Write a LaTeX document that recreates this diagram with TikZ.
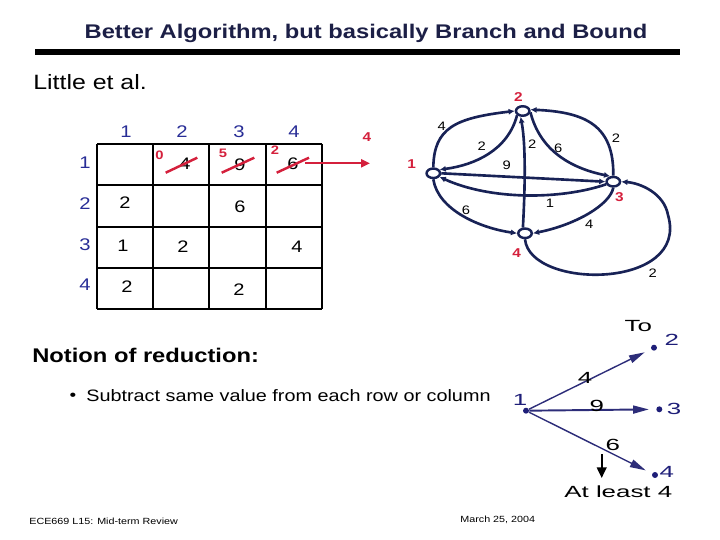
\documentclass[tikz,border=0pt]{standalone}
\usepackage{fontspec}
\setmainfont[FakeStretch=1.2]{Liberation Sans}
\newfontfamily\widefont[FakeStretch=1.6]{Liberation Sans}
\usepackage{tikz}
\usetikzlibrary{arrows.meta,positioning,calc,shapes.geometric}
\definecolor{titlenavy}{RGB}{28,31,70}
\definecolor{headblue}{RGB}{40,45,150}
\definecolor{markred}{RGB}{212,32,60}
\definecolor{edgenavy}{RGB}{24,34,86}
\definecolor{treenavy}{RGB}{30,30,120}
\newcommand{\cellval}[3]{\node[cellnum] (#1) at #2 {#3};}
\newcommand{\crossout}[2]{\draw[markred,line width=1.4pt] #1 -- #2;}
\newcommand{\wlabel}[3]{\node[wnum] (#1) at #2 {#3};}
\newcommand{\citylabel}[3]{\node[citynum] (#1) at #2 {#3};}
\tikzset{
  slidetitle/.style={font=\bfseries\fontsize{11.25}{13}\selectfont,text=titlenavy},
  bigtext/.style={font=\fontsize{11.8}{13}\selectfont,inner sep=0pt,anchor=west},
  foot/.style={font=\fontsize{5.1}{6}\selectfont,inner sep=0pt,anchor=west},
  cellnum/.style={font=\fontsize{9.5}{10}\selectfont,text=black},
  headnum/.style={font=\fontsize{9.6}{10}\selectfont,text=headblue},
  rednum/.style={font=\bfseries\fontsize{7}{8}\selectfont,text=markred},
  wnum/.style={font=\fontsize{7}{8}\selectfont,text=black},
  citynum/.style={font=\bfseries\fontsize{7.3}{8}\selectfont,text=markred},
  gridline/.style={black,line width=1pt},
  city/.style={ellipse,draw=edgenavy,fill=white,line width=1.4pt,
    minimum width=0.27cm,minimum height=0.19cm,inner sep=0pt},
  road/.style={edgenavy,line width=1.5pt,-{Latex[length=3.5pt,width=3.5pt]}},
  dot/.style={circle,fill=treenavy,minimum size=3.4pt,inner sep=0pt},
  treelabel/.style={font=\widefont\fontsize{9.2}{10}\selectfont},
  branch/.style={treenavy!85!gray,line width=0.8pt,shorten >=4pt,
    -{Triangle[length=9pt,width=4.5pt]}}
}
\begin{document}
\begin{tikzpicture}[x=0.02cm,y=-0.02cm]
\useasboundingbox (0,0) rectangle (720,540);
% heading
\node[slidetitle] (title) at (366,33) {Better Algorithm, but basically Branch and Bound};
\draw[line width=3.4pt] (35,52) -- (680,52);
\node[bigtext] (little) at (33,82) {Little et al.};
% distance matrix
\foreach \gx in {97,153,209,266,322} \draw[gridline] (\gx,144) -- (\gx,309);
\foreach \gy in {144,185,227,268,309} \draw[gridline] (97,\gy) -- (322,\gy);
\foreach \i/\hx in {1/126,2/182,3/239,4/294} \node[headnum] (col\i) at (\hx,132) {\i};
\foreach \i/\hy in {1/163,2/204,3/245,4/285} \node[headnum] (row\i) at (85,\hy) {\i};
\cellval{m12}{(185,164)}{4} \cellval{m13}{(240,165)}{9} \cellval{m14}{(293,164)}{6}
\cellval{m21}{(125,203)}{2} \cellval{m23}{(240,207)}{6}
\cellval{m31}{(123,246)}{1} \cellval{m32}{(183,247)}{2} \cellval{m34}{(297,247)}{4}
\cellval{m41}{(127,287)}{2} \cellval{m43}{(239,290)}{2}
\crossout{(165.7,172.7)}{(197.3,157.7)}
\crossout{(221.7,172.7)}{(254.3,157.7)}
\crossout{(276.7,172.7)}{(309,157.7)}
\node[rednum] (r12) at (159.5,155) {0};
\node[rednum] (r13) at (223,153) {5};
\node[rednum] (r14) at (275,150) {2};
\coordinate (rowout) at (305,163.3);
\coordinate (rowin) at (370,163.3);
\draw[markred,line width=1.3pt,-{Triangle[length=5pt,width=4.5pt]}] (rowout) -- (rowin);
\node[citynum] (rowmin) at (367,137) {4};
% graph
\node[city] (n1) at (433.3,173.3) {};
\node[city] (n2) at (522.7,111) {};
\node[city] (n3) at (613.3,181.7) {};
\node[city] (n4) at (525,233.3) {};
\citylabel{l1}{(411.7,164)}{1}
\citylabel{l2}{(518.3,96.7)}{2}
\citylabel{l3}{(619.3,197.3)}{3}
\citylabel{l4}{(516.7,253.3)}{4}
\draw[road] (n1.north) .. controls (434,128) and (455,118) .. (n2.west);
\draw[road] (n2.south west) .. controls (508,150) and (475,165) .. (n1.30);
\draw[road] (n4.110) .. controls (525,190) and (526,145) .. (n2.250);
\draw[road] (n2.-10) .. controls (540,150) and (570,168) .. (n3.120);
\draw[road] (n3.north) .. controls (614,125) and (585,112) .. (n2.10);
\draw[road] (n1.east) -- (n3.west);
\draw[road] (n3.200) .. controls (560,200) and (490,200) .. (n1.-30);
\draw[road] (n1.south) .. controls (438,210) and (480,228) .. (n4.west);
\draw[road] (n3.south) .. controls (610,205) and (575,225) .. (n4.east);
\draw[road] (n4.south) .. controls (530,290) and (690,290) .. (668,215)
  .. controls (664,193) and (640,183) .. (n3.east);
\wlabel{w12}{(441.7,126.7)}{4}
\wlabel{w21}{(481.7,146.5)}{2}
\wlabel{w42}{(532.3,144.3)}{2}
\wlabel{w23}{(558.3,148.3)}{6}
\wlabel{w32}{(616,138.3)}{2}
\wlabel{w13}{(506.7,165)}{9}
\wlabel{w31}{(550,203.3)}{1}
\wlabel{w14}{(466,210)}{6}
\wlabel{w34}{(589.3,224)}{4}
\wlabel{w43}{(652.7,273.3)}{2}
% reduction
\node[bigtext,font=\bfseries\fontsize{11.25}{13}\selectfont] (notion) at (32,355) {Notion of reduction:};
\node[font=\fontsize{9}{10}\selectfont] (bullet) at (73,397) {\textbullet};
\node[bigtext,font=\fontsize{9.4}{11}\selectfont] (subtract) at (86,396) {Subtract same value from each row or column};
% branching from city 1
\node[dot] (t1) at (526,410.7) {};
\node[dot] (t2) at (654,347.7) {};
\node[dot] (t3) at (659.3,409.3) {};
\node[dot] (t4) at (655,475) {};
\node[treelabel,text=treenavy] (tl1) at (520,400) {1};
\node[treelabel,text=treenavy] (tl2) at (671.7,340) {2};
\node[treelabel,text=treenavy] (tl3) at (674,408.7) {3};
\node[treelabel,text=treenavy] (tl4) at (666.7,471.7) {4};
\node[treelabel] (to) at (638.3,326) {To};
\draw[branch] (t1) -- (t2);
\draw[branch,line width=1.1pt] (t1) -- (t3);
\draw[branch] (t1) -- (t4);
\node[treelabel] (b2) at (585,378.3) {4};
\node[treelabel] (b3) at (596.7,405.7) {9};
\node[treelabel] (b4) at (612.7,445) {6};
\coordinate (downtop) at (601.7,454);
\coordinate (downbot) at (601.7,478);
\draw[line width=1pt,-{Triangle[length=6pt,width=5.5pt]}] (downtop) -- (downbot);
\node[treelabel] (atleast) at (618.3,491.7) {At least 4};
% footer
\node[foot] (course) at (29,521) {ECE669 L15: Mid-term Review};
\node[foot] (date) at (460,520) {March 25, 2004};
\end{tikzpicture}
\end{document}
